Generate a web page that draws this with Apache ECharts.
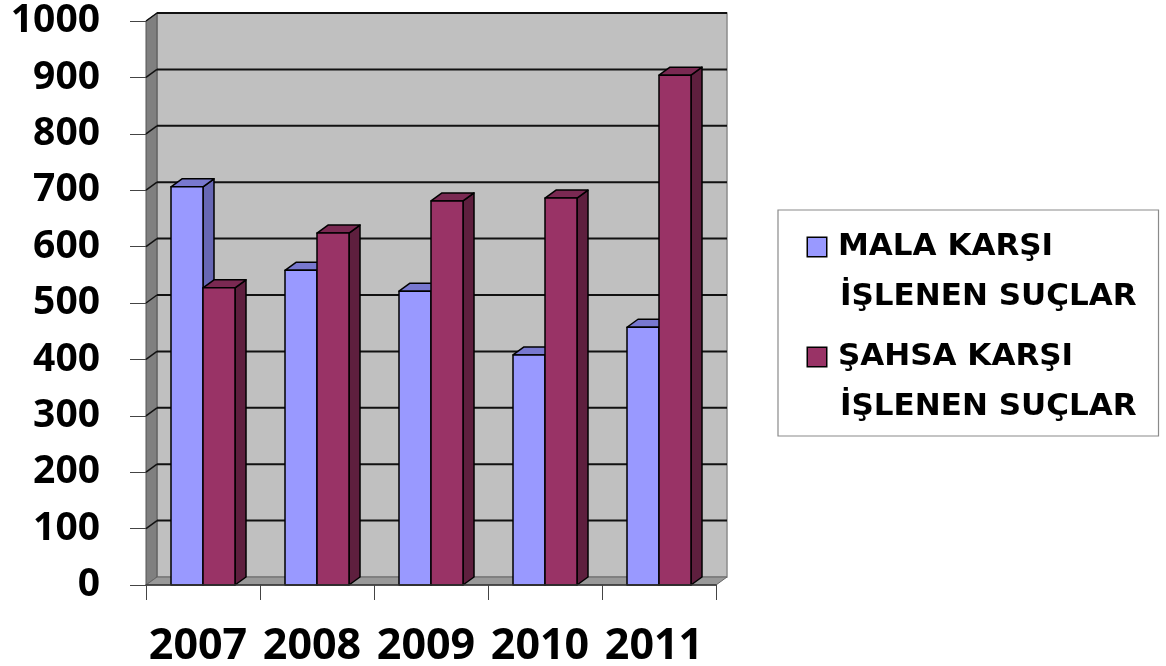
<!DOCTYPE html>
<html>
<head>
<meta charset="utf-8">
<script src="https://cdn.jsdelivr.net/npm/echarts@6/dist/echarts.min.js"></script>
<style>
html,body{margin:0;padding:0;background:#fff;}
#chart{width:1166px;height:666px;}
</style>
</head>
<body>
<div id="chart"></div>
<script>
const categories = ['2007', '2008', '2009', '2010', '2011'];
const seriesNames = ['MALA KARŞI\nİŞLENEN SUÇLAR', 'ŞAHSA KARŞI\nİŞLENEN SUÇLAR'];
const malaValues = [706, 558, 521, 408, 457];
const sahsaValues = [527, 624, 681, 686, 904];
const yTicks = [0, 100, 200, 300, 400, 500, 600, 700, 800, 900, 1000];

const DX = 11, DY = -8;
const BW = 32;

const palettes = [
  { front: '#9999FF', top: '#7878CF', side: '#6767B5' },
  { front: '#993366', top: '#7A2952', side: '#5E1F3E' }
];

function barRender(seriesIdx) {
  const pal = palettes[seriesIdx];
  return function (params, api) {
    const i = api.value(0), v = api.value(1);
    const base = api.coord([i, 0]);
    const top = api.coord([i, v]);
    const cx = base[0];
    const left = seriesIdx === 0 ? cx - BW : cx;
    const right = left + BW;
    const yt = top[1], yb = base[1];
    const stroke = { stroke: '#000', lineWidth: 1.5, lineJoin: 'round' };
    return {
      type: 'group',
      children: [
        { type: 'polygon', shape: { points: [[right, yb], [right, yt], [right + DX, yt + DY], [right + DX, yb + DY]] },
          style: Object.assign({ fill: pal.side }, stroke) },
        { type: 'polygon', shape: { points: [[left, yt], [right, yt], [right + DX, yt + DY], [left + DX, yt + DY]] },
          style: Object.assign({ fill: pal.top }, stroke) },
        { type: 'rect', shape: { x: left, y: yt, width: BW, height: yb - yt },
          style: Object.assign({ fill: pal.front }, stroke) }
      ]
    };
  };
}

function wallRender(params, api) {
  const cs = params.coordSys;
  const x0 = cs.x, x1 = cs.x + cs.width;
  const yb = api.coord([0, 0])[1];
  const yt = api.coord([0, 1000])[1];
  const children = [
    { type: 'rect', shape: { x: x0 + DX, y: yt + DY, width: x1 - x0, height: yb - yt },
      style: { fill: '#C0C0C0', stroke: '#8C8C8C', lineWidth: 1.5 } },
    { type: 'polygon', shape: { points: [[x0, yb], [x0, yt], [x0 + DX, yt + DY], [x0 + DX, yb + DY]] },
      style: { fill: '#808080', stroke: '#555', lineWidth: 1 } },
    { type: 'polygon', shape: { points: [[x0, yb], [x1, yb], [x1 + DX, yb + DY], [x0 + DX, yb + DY]] },
      style: { fill: '#999999', stroke: '#666', lineWidth: 1 } }
  ];
  yTicks.forEach(function (t) {
    if (t === 0) return;
    const y = api.coord([0, t])[1];
    children.push({ type: 'line', shape: { x1: x0 + DX, y1: y + DY, x2: x1 + DX, y2: y + DY },
      style: { stroke: '#111', lineWidth: 2 } });
    children.push({ type: 'line', shape: { x1: x0, y1: y, x2: x0 + DX, y2: y + DY },
      style: { stroke: '#111', lineWidth: 1.5 } });
  });
  return { type: 'group', children: children };
}

const chart = echarts.init(document.getElementById('chart'), null, { renderer: 'canvas' });

function legendFmt(name) {
  const idx = seriesNames.indexOf(name);
  const lines = name.split('\n');
  const mk = idx === 0 ? 'ma' : 'mb';
  return '{' + mk + '| }{g| }{t|' + lines[0] + '}\n{s| }{t|' + lines[1] + '}';
}

const LH = 50;
const txt = { fontFamily: 'DejaVu Sans', fontWeight: 'bold', fontSize: 31, lineHeight: LH, color: '#000' };

chart.setOption({
  backgroundColor: '#ffffff',
  animation: false,
  grid: { left: 146, right: 450, top: 21, bottom: 81, outerBoundsMode: 'none', containLabel: false },
  legend: {
    orient: 'vertical',
    left: 778,
    top: 210,
    icon: 'none',
    itemWidth: 0,
    itemHeight: 0,
    itemGap: 10,
    padding: [12, 22, 4, 25],
    borderColor: '#8a8a8a',
    borderWidth: 1.2,
    selectedMode: false,
    data: seriesNames,
    formatter: legendFmt,
    textStyle: Object.assign({
      rich: {
        ma: { width: 18, height: 18, lineHeight: LH, backgroundColor: '#9999FF', borderColor: '#000', borderWidth: 1.5 },
        mb: { width: 18, height: 18, lineHeight: LH, backgroundColor: '#993366', borderColor: '#000', borderWidth: 1.5 },
        g: { width: 12, lineHeight: LH, fontSize: 31 },
        s: { width: 32, lineHeight: LH, fontSize: 31 },
        t: txt
      }
    }, txt)
  },
  xAxis: {
    type: 'category',
    data: categories,
    z: 5,
    axisLine: { show: true, lineStyle: { color: '#333', width: 1.5 } },
    axisTick: { show: true, length: 15, lineStyle: { color: '#444', width: 1 } },
    axisLabel: { interval: 0, margin: 40, padding: [0, 10, 0, 0], color: '#000', fontFamily: 'Open Sans', fontWeight: 'bold', fontSize: 43 },
    splitLine: { show: false }
  },
  yAxis: {
    type: 'value',
    min: 0,
    max: 1000,
    interval: 100,
    z: 5,
    axisLine: { show: false },
    axisTick: { show: true, length: 16, lineStyle: { color: '#444', width: 1 } },
    axisLabel: { margin: 46, color: '#000', fontFamily: 'Open Sans', fontWeight: 'bold', fontSize: 39,
      formatter: function (v) { return String(v); } },
    splitLine: { show: false }
  },
  series: [
    {
      type: 'custom',
      name: 'wall',
      z: 1,
      silent: true,
      renderItem: wallRender,
      data: [[0, 0]],
      encode: { x: 0, y: 1 }
    },
    {
      type: 'custom',
      name: seriesNames[0],
      z: 2,
      itemStyle: { color: '#9999FF' },
      renderItem: barRender(0),
      data: malaValues.map(function (v, i) { return [i, v]; }),
      encode: { x: 0, y: 1 }
    },
    {
      type: 'custom',
      name: seriesNames[1],
      z: 3,
      itemStyle: { color: '#993366' },
      renderItem: barRender(1),
      data: sahsaValues.map(function (v, i) { return [i, v]; }),
      encode: { x: 0, y: 1 }
    }
  ]
});
</script>
</body>
</html>
